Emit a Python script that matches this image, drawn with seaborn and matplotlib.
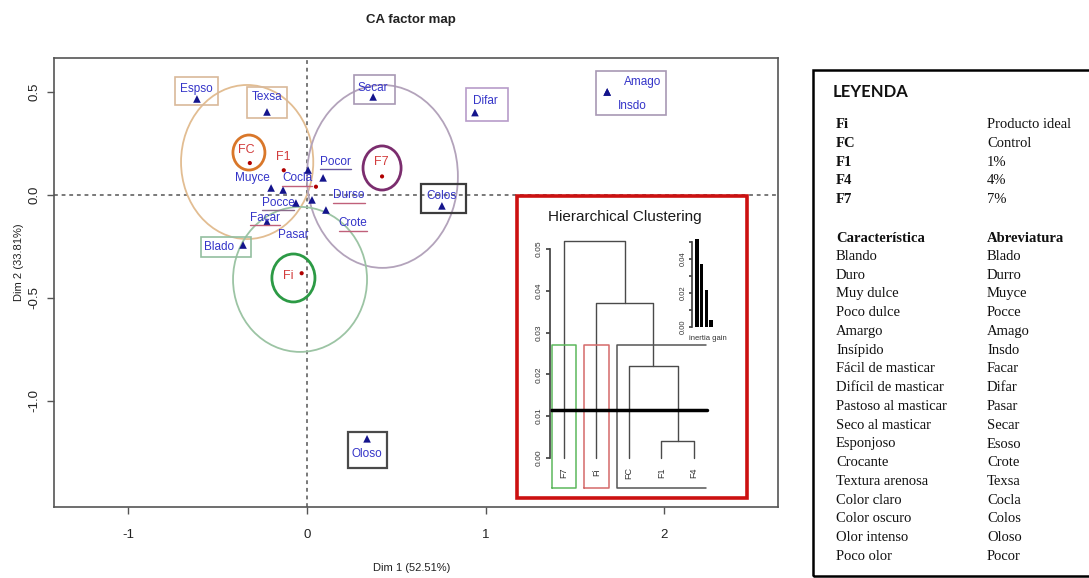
import numpy as np
import pandas as pd
import matplotlib
matplotlib.use("Agg")
import matplotlib.pyplot as plt
import seaborn as sns
from matplotlib.patches import Rectangle, Ellipse
from matplotlib.lines import Line2D
from matplotlib import transforms

# ---------------- CA coordinates: products (rows) ----------------
prod_names = ["Fi", "FC", "F1", "F4", "F7"]
prod_dim1 = [-0.03, -0.32, -0.13, 0.05, 0.42]
prod_dim2 = [-0.38, 0.155, 0.12, 0.04, 0.09]

# ---------------- CA coordinates: sensory attributes (columns) ----------------
attr_names = ["Espso", "Texsa", "Secar", "Difar", "Amago", "Insdo", "Muyce", "Cocla",
              "Pocor", "Durso", "Pocce", "Pasar", "Crote", "Facar", "Blado", "Colos", "Oloso"]
attr_dim1 = [-0.616, -0.224, 0.37, 0.94, 1.68, 1.68, -0.201, -0.134,
             0.09, 0.006, -0.062, 0.028, 0.106, -0.224, -0.358, 0.755, 0.336]
attr_dim2 = [0.466, 0.403, 0.476, 0.40, 0.50, 0.50, 0.034, 0.024,
             0.083, 0.121, -0.039, -0.024, -0.073, -0.131, -0.243, -0.053, -1.184]

# ---------------- confidence regions around the products ----------------
ell_group = ["FC", "F7", "Fi"]
big_cx = [-0.335, 0.422, -0.039]
big_cy = [0.16, 0.09, -0.41]
big_w = [0.74, 0.845, 0.75]
big_h = [0.748, 0.888, 0.704]
small_cx = [-0.325, 0.42, -0.076]
small_cy = [0.206, 0.131, -0.403]
small_w = [0.179, 0.213, 0.241]
small_h = [0.17, 0.214, 0.233]

# ---------------- hierarchical clustering of products ----------------
leaf_order = ["F7", "Fi", "FC", "F1", "F4"]
merges = [("F1", "F4"), ("FC", "c1"), ("Fi", "c2"), ("F7", "c3")]
merge_heights = [0.004, 0.022, 0.037, 0.052]
cluster_groups = [["F7"], ["Fi"], ["FC", "F1", "F4"]]
cut_height = 0.0115

# ---------------- legend table ----------------
code_names = ["Fi", "FC", "F1", "F4", "F7"]
code_desc = ["Producto ideal", "Control", "1%", "4%", "7%"]
char_names = ["Blando", "Duro", "Muy dulce", "Poco dulce", "Amargo", "Insípido",
              "Fácil de masticar", "Difícil de masticar", "Pastoso al masticar",
              "Seco al masticar", "Esponjoso", "Crocante", "Textura arenosa",
              "Color claro", "Color oscuro", "Olor intenso", "Poco olor"]
char_abbr = ["Blado", "Durro", "Muyce", "Pocce", "Amago", "Insdo", "Facar", "Difar",
             "Pasar", "Secar", "Esoso", "Crote", "Texsa", "Cocla", "Colos", "Oloso", "Pocor"]

# ---------------- styling ----------------
sns.set_theme(style="white")
plt.rcParams["font.family"] = ["Liberation Sans", "DejaVu Sans"]

W, H = 1089, 578
fig = plt.figure(figsize=(W / 100, H / 100), dpi=100)
fig.patch.set_facecolor("white")


def fx(px):
    return px / W


def fy(py):
    return 1 - py / H


# ---------------- main CA map ----------------
ax = fig.add_axes([fx(54), fy(507), (778 - 54) / W, (507 - 58) / H])
ax.set_xlim(-1.416, 2.636)
ax.set_ylim(-1.515, 0.665)

ax.axhline(0, ls=(0, (2.5, 2.5)), color="#555555", lw=1.1, zorder=1)
ax.axvline(0, ls=(0, (2.5, 2.5)), color="#555555", lw=1.1, zorder=1)

prod_df = pd.DataFrame({"name": prod_names, "Dim1": prod_dim1, "Dim2": prod_dim2})
attr_df = pd.DataFrame({"name": attr_names, "Dim1": attr_dim1, "Dim2": attr_dim2})

sns.scatterplot(data=attr_df, x="Dim1", y="Dim2", marker="^", color="#14148c",
                s=30, edgecolor="none", ax=ax, legend=False, zorder=4)
sns.scatterplot(data=prod_df, x="Dim1", y="Dim2", marker="o", color="#b00000",
                s=9, edgecolor="none", ax=ax, legend=False, zorder=5)

big_colors = ["#e2bd92", "#b3a3bb", "#9cc4a4"]
small_colors = ["#d9772a", "#7b2d6e", "#2c9a45"]
for i in range(len(ell_group)):
    ax.add_patch(Ellipse((big_cx[i], big_cy[i]), big_w[i], big_h[i], fill=False,
                         ec=big_colors[i], lw=1.3, zorder=2))
    ax.add_patch(Ellipse((small_cx[i], small_cy[i]), small_w[i], small_h[i], fill=False,
                         ec=small_colors[i], lw=2.0, zorder=3))

# product labels (pixel offsets from each point)
prod_label_off = {"Fi": (-13, -3), "FC": (-4, 13), "F1": (0, 13), "F7": (-1, 14)}
for name, x, y in zip(prod_names, prod_dim1, prod_dim2):
    if name in prod_label_off:
        ax.annotate(name, (x, y), xytext=prod_label_off[name], textcoords="offset pixels",
                    ha="center", va="center", fontsize=9, color="#d23c3c", zorder=6)

# attribute labels
attr_label_off = {
    "Espso": (-1, 10), "Texsa": (0, 15), "Secar": (0, 9), "Difar": (10, 12),
    "Amago": (35, 10), "Insdo": (25, -14), "Muyce": (-19, 10), "Cocla": (14, 12),
    "Pocor": (12, 16), "Durso": (41, -25), "Pocce": (-18, 0), "Pasar": (-19, -35),
    "Crote": (27, -13), "Facar": (-2, 4), "Blado": (-24, -2), "Colos": (0, 10),
    "Oloso": (0, -15),
}
attr_texts = {}
for name, x, y in zip(attr_names, attr_dim1, attr_dim2):
    attr_texts[name] = ax.annotate(name, (x, y), xytext=attr_label_off[name],
                                   textcoords="offset pixels", ha="center", va="center",
                                   fontsize=8.5, color="#3434c8", zorder=6)

# highlight boxes around selected attributes (extent in pixels around the point)
attr_boxes = {
    "Espso": ((-22, 21, -6, 22), "#d9b99a", 1.2),
    "Texsa": ((-20, 20, -6, 25), "#d9b99a", 1.2),
    "Secar": ((-19, 22, -7, 22), "#a898b4", 1.2),
    "Difar": ((-9, 33, -8, 25), "#b79cc9", 1.2),
    "Amago": ((-11, 59, -23, 21), "#a898b4", 1.2),
    "Colos": ((-21, 24, -7, 22), "#3c3c3c", 1.6),
    "Oloso": ((-19, 20, -29, 7), "#4a4a4a", 1.6),
    "Blado": ((-42, 8, -12, 8), "#93bfa0", 1.2),
}
lookup = dict(zip(attr_names, zip(attr_dim1, attr_dim2)))
for name, ((x0, x1, y0, y1), col, lw) in attr_boxes.items():
    px, py = lookup[name]
    trans = fig.dpi_scale_trans + transforms.ScaledTranslation(px, py, ax.transData)
    ax.add_patch(Rectangle((x0 / 100, y0 / 100), (x1 - x0) / 100, (y1 - y0) / 100,
                           fill=False, ec=col, lw=lw, transform=trans, zorder=3,
                           clip_on=False))

ax.set_xticks([-1, 0, 1, 2])
ax.set_yticks([-1.0, -0.5, 0.0, 0.5])
ax.set_xticklabels(["-1", "0", "1", "2"])
ax.set_yticklabels(["-1.0", "-0.5", "0.0", "0.5"], rotation=90, va="center")
ax.tick_params(axis="both", direction="out", length=5, width=1, color="#555555",
               labelsize=9.5, labelcolor="#222222", bottom=True, left=True)
ax.tick_params(axis="x", pad=11)
ax.tick_params(axis="y", pad=5)
ax.set_xlabel("")
ax.set_ylabel("")
for sp in ax.spines.values():
    sp.set_visible(True)
    sp.set_color("#555555")
    sp.set_linewidth(1.2)

fig.text(fx(411), fy(20), "CA factor map", ha="center", va="center",
         fontsize=9.5, fontweight="bold", color="#222222")
fig.text(fx(412), fy(568), "Dim 1 (52.51%)", ha="center", va="center",
         fontsize=8, color="#222222")
fig.text(fx(19), fy(262), "Dim 2 (33.81%)", ha="center", va="center",
         fontsize=8, color="#222222", rotation=90)

# ---------------- clustering inset ----------------
fig.add_artist(Rectangle((fx(517), fy(498)), 230 / W, 302 / H, transform=fig.transFigure,
                         fc="white", ec="#cc1111", lw=2.6, zorder=1.5))
fig.text(fx(625), fy(217), "Hierarchical Clustering", ha="center", va="center",
         fontsize=11, color="#1a1a1a", zorder=4)

dend_ax = fig.add_axes([fx(550), fy(495.6), 170 / W, (495.6 - 228) / H])
dend_ax.set_zorder(3)
dend_ax.patch.set_alpha(0)
dend_ax.set_xlim(-0.43, 4.8)
dend_ax.set_ylim(-0.009, 0.055)

node_x = {name: float(i) for i, name in enumerate(leaf_order)}
node_h = {name: 0.0 for name in leaf_order}
for k, ((a, b), h) in enumerate(zip(merges, merge_heights)):
    xa, xb = node_x[a], node_x[b]
    dend_ax.plot([xa, xa, xb, xb], [node_h[a], h, h, node_h[b]], color="#4a4a4a", lw=1.0)
    node_x[f"c{k + 1}"] = (xa + xb) / 2
    node_h[f"c{k + 1}"] = h

for name in leaf_order:
    dend_ax.text(node_x[name], -0.0035, name, rotation=90, ha="center", va="center",
                 fontsize=6.5, color="#333333")

group_colors = ["#5cb85c", "#d46a6a", "#555555"]
rect_bottom, rect_top = -0.0072, 0.027
for grp, col in zip(cluster_groups, group_colors):
    xs = [node_x[g] for g in grp]
    left, right = min(xs) - 0.38, max(xs) + 0.38
    if len(grp) == 1:
        dend_ax.plot([left, left, right, right, left],
                     [rect_bottom, rect_top, rect_top, rect_bottom, rect_bottom],
                     color=col, lw=1.1)
    else:
        dend_ax.plot([right, left, left, right],
                     [rect_top, rect_top, rect_bottom, rect_bottom], color=col, lw=1.1)

dend_ax.plot([-0.4, 4.4], [cut_height, cut_height], color="black", lw=2.5)

for side in ["top", "right", "bottom"]:
    dend_ax.spines[side].set_visible(False)
dend_ax.spines["left"].set_bounds(0, 0.05)
dend_ax.spines["left"].set_color("#444444")
dend_ax.set_xticks([])
dend_ax.set_yticks(np.arange(0, 0.051, 0.01))
dend_ax.set_yticklabels([f"{v:.2f}" for v in np.arange(0, 0.051, 0.01)],
                        rotation=90, va="center")
dend_ax.tick_params(axis="y", direction="out", length=3, labelsize=6, pad=2,
                    color="#444444", labelcolor="#333333", left=True)

# inertia gain bars
gain_df = pd.DataFrame({"step": ["1", "2", "3", "4"], "gain": merge_heights[::-1]})
gain_ax = fig.add_axes([fx(692), fy(327), 24 / W, 90 / H])
gain_ax.set_zorder(3)
gain_ax.patch.set_alpha(0)
sns.barplot(data=gain_df, x="step", y="gain", color="black", saturation=1,
            width=0.7, ax=gain_ax, linewidth=0)
gain_ax.set_xlim(-1.07, 4.07)
gain_ax.set_ylim(0, 0.053)
gain_ax.set_xlabel("")
gain_ax.set_ylabel("")
for side in ["top", "right", "bottom"]:
    gain_ax.spines[side].set_visible(False)
gain_ax.spines["left"].set_bounds(0, 0.05)
gain_ax.spines["left"].set_color("#444444")
gain_ax.set_xticks([])
gain_ax.set_yticks(np.arange(0, 0.051, 0.01))
gain_ax.set_yticklabels(["0.00", "", "0.02", "", "0.04", ""], rotation=90, va="center")
gain_ax.tick_params(axis="y", direction="out", length=2.5, labelsize=5.5, pad=1,
                    color="#444444", labelcolor="#333333", left=True)
fig.text(fx(708), fy(339), "inertia gain", ha="center", va="center",
         fontsize=5.5, color="#333333", zorder=4)

# ---------------- legend panel ----------------
fig.add_artist(Rectangle((fx(813), fy(576)), (1100 - 813) / W, (576 - 70) / H,
                         transform=fig.transFigure, fill=False, ec="black", lw=1.8))
fig.text(fx(833), fy(92), "LEYENDA", ha="left", va="center", fontsize=12,
         fontweight="bold", family=["Lato", "DejaVu Sans"], color="#111111")

serif = ["Liberation Serif", "DejaVu Serif"]
for i, (c, d) in enumerate(zip(code_names, code_desc)):
    yy = 125 + i * 18.6
    fig.text(fx(836), fy(yy), c, ha="left", va="center", fontsize=10.5,
             fontweight="bold", family=serif, color="#111111")
    fig.text(fx(987), fy(yy), d, ha="left", va="center", fontsize=10.5,
             family=serif, color="#111111")

fig.text(fx(836), fy(238), "Característica", ha="left", va="center", fontsize=10.5,
         fontweight="bold", family=serif, color="#111111")
fig.text(fx(987), fy(238), "Abreviatura", ha="left", va="center", fontsize=10.5,
         fontweight="bold", family=serif, color="#111111")
for i, (c, a) in enumerate(zip(char_names, char_abbr)):
    yy = 256.5 + i * 18.75
    fig.text(fx(836), fy(yy), c, ha="left", va="center", fontsize=10.5,
             family=serif, color="#111111")
    fig.text(fx(987), fy(yy), a, ha="left", va="center", fontsize=10.5,
             family=serif, color="#111111")

# ---------------- underline marks under some attribute labels ----------------
underlined = {"Pocor": "#6a5aa0", "Cocla": "#c0607a", "Durso": "#c0607a",
              "Pocce": "#8a6a8a", "Facar": "#c0607a", "Crote": "#c0607a"}
fig.canvas.draw()
renderer = fig.canvas.get_renderer()
inv = fig.transFigure.inverted()
for name, col in underlined.items():
    bb = attr_texts[name].get_window_extent(renderer)
    (x0, y0), (x1, _) = inv.transform([(bb.x0, bb.y0 - 1.5), (bb.x1, bb.y0 - 1.5)])
    fig.add_artist(Line2D([x0, x1], [y0, y0], transform=fig.transFigure, color=col,
                          lw=1.0, zorder=1.2))

fig.savefig("out.png", dpi=100, facecolor="white")
